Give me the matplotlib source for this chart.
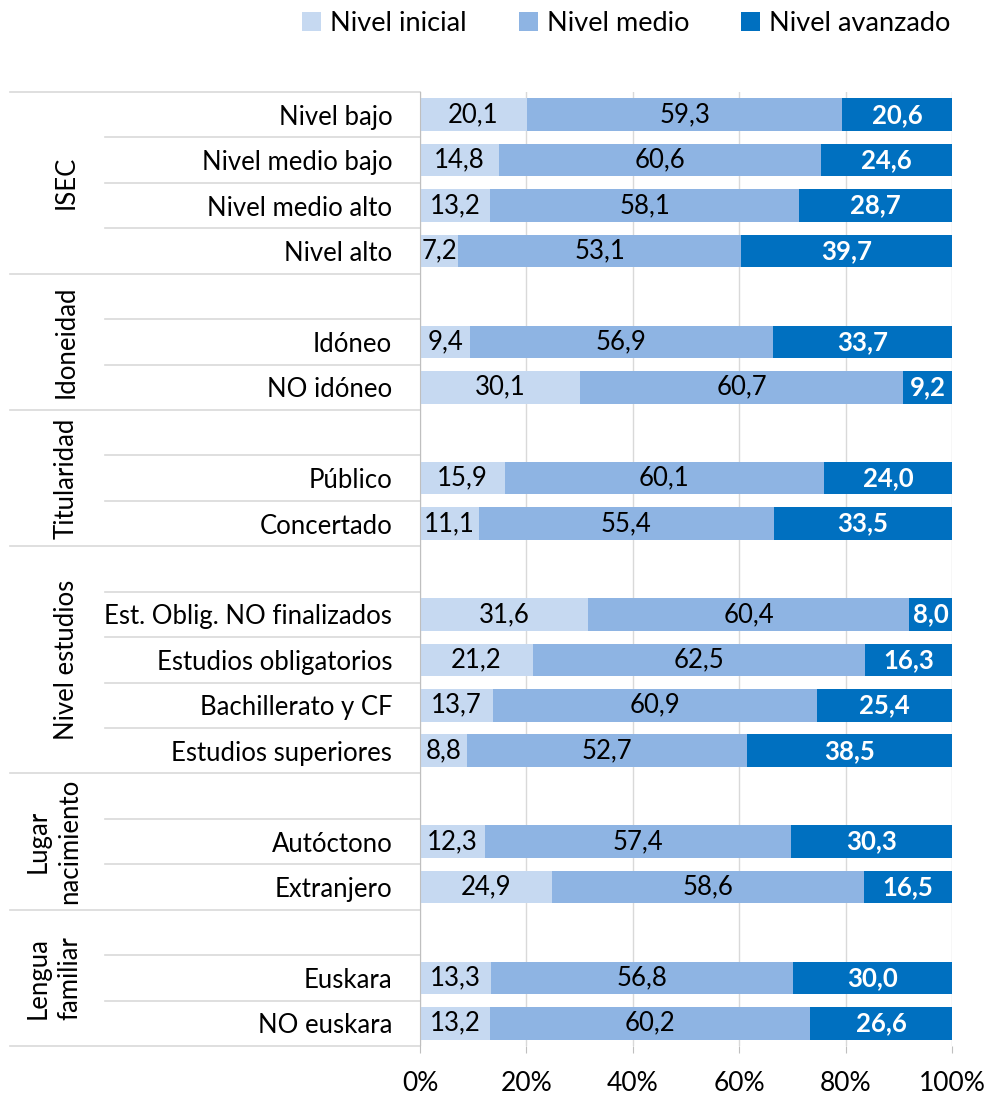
import numpy as np
import matplotlib.pyplot as plt
from matplotlib.patches import Patch
import matplotlib.transforms as mtransforms

plt.rcParams['font.family'] = ['Lato', 'DejaVu Sans']

# Data (None = empty spacer row)
row_labels = ['Nivel bajo', 'Nivel medio bajo', 'Nivel medio alto', 'Nivel alto',
              '', 'Idóneo', 'NO idóneo',
              '', 'Público', 'Concertado',
              '', 'Est. Oblig. NO finalizados', 'Estudios obligatorios',
              'Bachillerato y CF', 'Estudios superiores',
              '', 'Autóctono', 'Extranjero',
              '', 'Euskara', 'NO euskara']
inicial = [20.1, 14.8, 13.2, 7.2,
           None, 9.4, 30.1,
           None, 15.9, 11.1,
           None, 31.6, 21.2, 13.7, 8.8,
           None, 12.3, 24.9,
           None, 13.3, 13.2]
medio = [59.3, 60.6, 58.1, 53.1,
         None, 56.9, 60.7,
         None, 60.1, 55.4,
         None, 60.4, 62.5, 60.9, 52.7,
         None, 57.4, 58.6,
         None, 56.8, 60.2]
avanzado = [20.6, 24.6, 28.7, 39.7,
            None, 33.7, 9.2,
            None, 24.0, 33.5,
            None, 8.0, 16.3, 25.4, 38.5,
            None, 30.3, 16.5,
            None, 30.0, 26.6]
groups = ['ISEC', 'Idoneidad', 'Titularidad', 'Nivel estudios',
          'Lugar\nnacimiento', 'Lengua\nfamiliar']
group_sizes = [4, 3, 3, 5, 3, 3]
series_names = ['Nivel inicial', 'Nivel medio', 'Nivel avanzado']
colors = ['#C6D9F1', '#8EB4E3', '#0070C0']

fig = plt.figure(figsize=(9.85, 10.95), dpi=100)
ax = fig.add_axes([420/985, 1 - 1046/1095, 532/985, (1046-92)/1095])

n = len(row_labels)
y = np.arange(n)
a = np.array([np.nan if v is None else v for v in inicial])
b = np.array([np.nan if v is None else v for v in medio])
c = np.array([np.nan if v is None else v for v in avanzado])
a_ = np.nan_to_num(a)
b_ = np.nan_to_num(b)
c_ = np.nan_to_num(c)

h = 0.72
ax.barh(y, a_, height=h, color=colors[0], zorder=2)
ax.barh(y, b_, left=a_, height=h, color=colors[1], zorder=2)
ax.barh(y, c_, left=a_ + b_, height=h, color=colors[2], zorder=2)

vs = 18.5
fmt = lambda v: f'{v:.1f}'.replace('.', ',')
for i in range(n):
    if np.isnan(a[i]):
        continue
    ax.text(a[i] / 2, y[i], fmt(a[i]), ha='center', va='center', fontsize=vs, color='black', zorder=3)
    ax.text(a[i] + b[i] / 2, y[i], fmt(b[i]), ha='center', va='center', fontsize=vs, color='black', zorder=3)
    ax.text(a[i] + b[i] + c[i] / 2, y[i], fmt(c[i]), ha='center', va='center', fontsize=vs,
            color='white', fontweight='bold', zorder=3)

ax.set_xlim(0, 100)
ax.set_ylim(n - 0.5, -0.5)
ax.set_xticks([0, 20, 40, 60, 80, 100])
ax.set_xticklabels(['0%', '20%', '40%', '60%', '80%', '100%'], fontsize=19)
ax.set_yticks(y)
ax.set_yticklabels(row_labels, fontsize=18.5)
ax.tick_params(axis='y', length=0, pad=20)
ax.tick_params(axis='x', length=5, color='#BFBFBF', pad=13)
ax.grid(axis='x', color='#D9D9D9', linewidth=1, zorder=0)
for s in ['top', 'right', 'bottom']:
    ax.spines[s].set_visible(False)
ax.spines['left'].set_color('#BFBFBF')

# separator lines and group labels
trans = mtransforms.blended_transform_factory(ax.transAxes, ax.transData)
x_full = (10 - 420) / 532
x_inner = (105 - 420) / 532
ax.plot([x_full, 0], [-0.5, -0.5], transform=trans, color='#D9D9D9', lw=1.2, clip_on=False)
start = 0
for g, size in zip(groups, group_sizes):
    for k in range(1, size):
        yy = start + k - 0.5
        ax.plot([x_inner, 0], [yy, yy], transform=trans, color='#D9D9D9', lw=1.2, clip_on=False)
    yy = start + size - 0.5
    ax.plot([x_full, 0], [yy, yy], transform=trans, color='#D9D9D9', lw=1.2, clip_on=False)
    gx = 54 if '\n' in g else 66
    ax.text((gx - 420) / 532, start + size / 2 - 0.5, g, transform=trans, rotation=90,
            ha='center', va='center', fontsize=18.5, linespacing=1.3)
    start += size

handles = [Patch(facecolor=col, edgecolor='none') for col in colors]
fig.legend(handles, series_names, loc='upper right', bbox_to_anchor=(0.99, 1.012), ncol=3,
           frameon=False, fontsize=19.5, handlelength=0.7, handleheight=0.7,
           handletextpad=0.35, columnspacing=1.9)

fig.savefig('out.png', dpi=100)
